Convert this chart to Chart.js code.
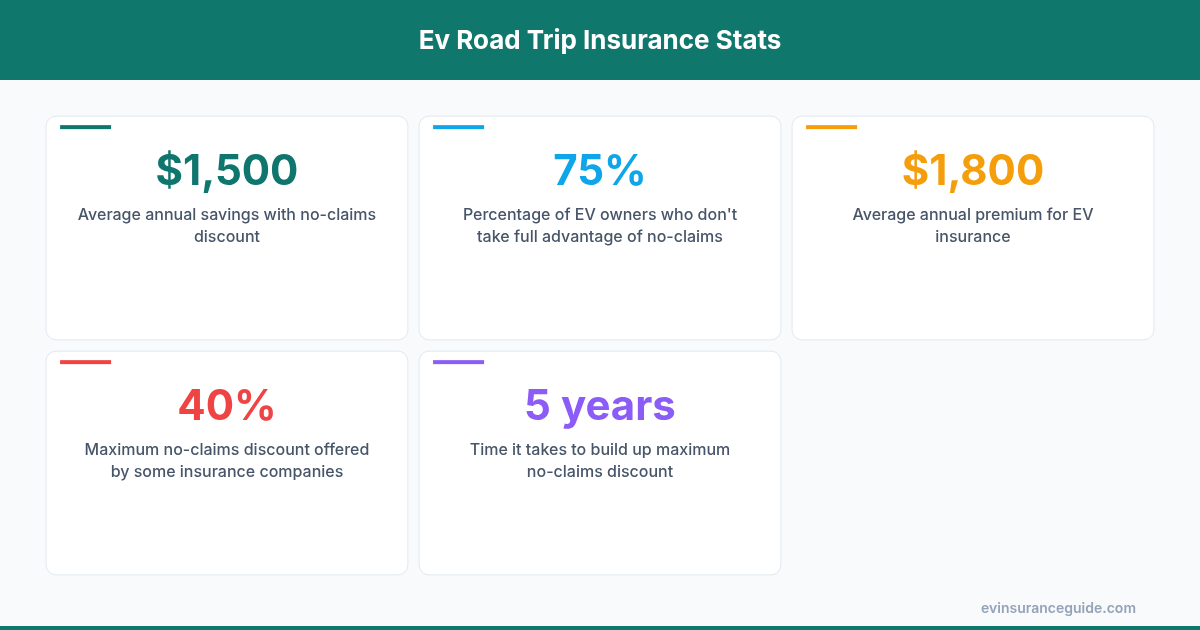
<!DOCTYPE html>
<html>
<head>
<meta charset="utf-8">
<script src="https://cdn.jsdelivr.net/npm/chart.js@4"></script>
<style>
  html, body { margin: 0; padding: 0; background: #f8fafc; }
  #wrap { width: 1200px; height: 630px; position: relative; }
</style>
</head>
<body>
<div id="wrap"><canvas id="chart" width="1200" height="630"></canvas></div>
<script>
const title = "Ev Road Trip Insurance Stats";
const footer = "evinsuranceguide.com";
const values = ["$1,500", "75%", "$1,800", "40%", "5 years"];
const descriptions = [
    ["Average annual savings with no-claims", "discount"],
    ["Percentage of EV owners who don't", "take full advantage of no-claims"],
    ["Average annual premium for EV", "insurance"],
    ["Maximum no-claims discount offered", "by some insurance companies"],
    ["Time it takes to build up maximum", "no-claims discount"]
];
const columns = [0, 1, 2, 0, 1];
const rows = [0, 0, 0, 1, 1];
const colors = ["#0f766e", "#0ea5e9", "#f59e0b", "#ef4444", "#8b5cf6"];

const FONT = "Inter, 'Noto Sans', sans-serif";

function roundRect(ctx, x, y, w, h, r) {
    ctx.beginPath();
    ctx.moveTo(x + r, y);
    ctx.arcTo(x + w, y, x + w, y + h, r);
    ctx.arcTo(x + w, y + h, x, y + h, r);
    ctx.arcTo(x, y + h, x, y, r);
    ctx.arcTo(x, y, x + w, y, r);
    ctx.closePath();
}

const cardPlugin = {
    id: "cards",
    beforeDraw(chart) {
        const ctx = chart.ctx;
        ctx.save();
        ctx.fillStyle = "#f8fafc";
        ctx.fillRect(0, 0, 1200, 630);
        // header
        ctx.fillStyle = "#10776d";
        ctx.fillRect(0, 0, 1200, 80);
        ctx.fillStyle = "#ffffff";
        ctx.font = "bold 26px " + FONT;
        ctx.textAlign = "center";
        ctx.textBaseline = "middle";
        ctx.fillText(title, 600, 41);
        // bottom line + footer
        ctx.fillStyle = "#10776d";
        ctx.fillRect(0, 626, 1200, 4);
        ctx.fillStyle = "#94a3b8";
        ctx.font = "600 14px " + FONT;
        ctx.textAlign = "right";
        ctx.fillText(footer, 1136, 609);
        ctx.restore();
    },
    afterDatasetsDraw(chart) {
        const ctx = chart.ctx;
        const xs = chart.scales.x, ys = chart.scales.y;
        const meta = chart.getDatasetMeta(0);
        ctx.save();
        meta.data.forEach((pt, i) => {
            const cx = pt.x, cy = pt.y;
            const w = Math.abs(xs.getPixelForValue(0.485) - xs.getPixelForValue(-0.485));
            const h = Math.abs(ys.getPixelForValue(0.476) - ys.getPixelForValue(-0.476));
            const x0 = cx - w / 2, y0 = cy - h / 2;
            roundRect(ctx, x0, y0, w, h, 10);
            ctx.fillStyle = "#ffffff";
            ctx.fill();
            ctx.strokeStyle = "#e2e8f0";
            ctx.lineWidth = 1;
            ctx.stroke();
            ctx.fillStyle = colors[i];
            ctx.fillRect(x0 + 14, y0 + 9, 51, 4);
            ctx.textAlign = "center";
            ctx.textBaseline = "middle";
            ctx.font = "bold 42px " + FONT;
            ctx.fillText(values[i], cx, y0 + 56);
            ctx.fillStyle = "#475569";
            ctx.font = "500 16px " + FONT;
            descriptions[i].forEach((line, j) => {
                ctx.fillText(line, cx, y0 + 99 + j * 22);
            });
        });
        ctx.restore();
    }
};

new Chart(document.getElementById("chart").getContext("2d"), {
    type: "scatter",
    data: {
        datasets: [{
            data: columns.map((c, i) => ({ x: c, y: rows[i] })),
            pointRadius: 0
        }]
    },
    options: {
        responsive: false,
        animation: false,
        events: [],
        layout: { padding: { left: 40.5, right: 40.5, top: 110.5, bottom: 49.5 } },
        scales: {
            x: { type: "linear", min: -0.5, max: 2.5, display: false },
            y: { type: "linear", min: -0.5, max: 1.5, reverse: true, display: false }
        },
        plugins: { legend: { display: false }, tooltip: { enabled: false } }
    },
    plugins: [cardPlugin]
});
</script>
</body>
</html>
